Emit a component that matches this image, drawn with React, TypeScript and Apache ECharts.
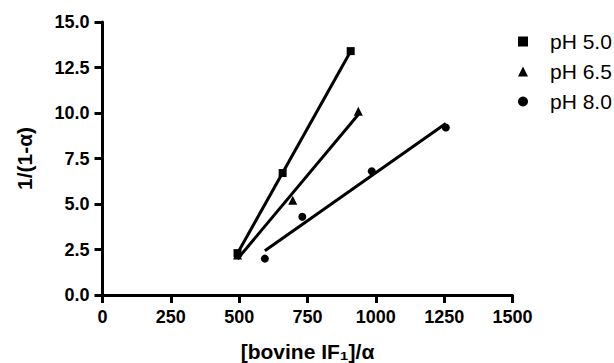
import React, { useEffect, useRef } from "react";
import * as echarts from "echarts";

const seriesNames = ["pH 5.0", "pH 6.5", "pH 8.0"];
const seriesSymbols = ["rect", "triangle", "circle"];
const ph50: [number, number][] = [[494, 2.3], [659, 6.7], [908, 13.4]];
const ph65: [number, number][] = [[494, 2.2], [696, 5.2], [936, 10.1]];
const ph80: [number, number][] = [[594, 2.0], [731, 4.3], [985, 6.8], [1256, 9.2]];
const seriesData = [ph50, ph65, ph80];

const xTicks = [0, 250, 500, 750, 1000, 1250, 1500];
const yTicks = [0, 2.5, 5, 7.5, 10, 12.5, 15];

function fitLine(pts: [number, number][]): [number, number][] {
  const n = pts.length;
  const mx = pts.reduce((s, p) => s + p[0], 0) / n;
  const my = pts.reduce((s, p) => s + p[1], 0) / n;
  let sxx = 0, sxy = 0;
  pts.forEach((p) => { sxx += (p[0] - mx) ** 2; sxy += (p[0] - mx) * (p[1] - my); });
  const b = sxy / sxx;
  const a = my - b * mx;
  const xs = pts.map((p) => p[0]);
  const x0 = Math.min(...xs), x1 = Math.max(...xs);
  return [[x0, a + b * x0], [x1, a + b * x1]];
}

const FONT = "'Liberation Sans', Arial, Helvetica, sans-serif";

export default function App() {
  const ref = useRef<HTMLDivElement>(null);
  useEffect(() => {
    if (!ref.current) return;
    document.body.style.margin = "0";
    const chart = echarts.init(ref.current, undefined, { renderer: "svg" });
    const axisCommon = {
      axisLine: { show: true, onZero: false, lineStyle: { color: "#000", width: 3 } },
      axisTick: { show: true, length: 8, lineStyle: { color: "#000", width: 3 } },
      splitLine: { show: false },
      axisLabel: { color: "#000", fontWeight: "bold", fontSize: 18, fontFamily: FONT },
      nameTextStyle: { color: "#000", fontWeight: "bold", fontSize: 21, fontFamily: FONT },
    };
    const lines = seriesData.map((d, i) => ({
      type: "line",
      name: seriesNames[i] + " fit",
      data: fitLine(d),
      symbol: "none",
      lineStyle: { color: "#000", width: 3 },
      silent: true,
      z: 2,
    }));
    const scatters = seriesData.map((d, i) => ({
      type: "scatter",
      name: seriesNames[i],
      data: d,
      symbol: seriesSymbols[i],
      symbolSize: seriesSymbols[i] === "triangle" ? 9 : 8,
      itemStyle: { color: "#000", opacity: 1 },
      z: 3,
    }));
    chart.setOption({
      animation: false,
      grid: {
        left: 102.5,
        right: 101.5,
        top: 22,
        bottom: 68,
        containLabel: false,
        outerBoundsMode: "none",
      },
      legend: {
        data: seriesNames.map((n) => ({ name: n, itemStyle: { color: "#000", opacity: 1 } })),
        orient: "vertical",
        left: 513,
        top: 26,
        itemWidth: 10,
        itemHeight: 10,
        itemGap: 9,
        textStyle: { color: "#000", fontSize: 21, fontFamily: FONT, padding: [0, 0, 0, 17] },
      },
      xAxis: {
        type: "value",
        min: 0,
        max: 1500,
        interval: 250,
        name: "[bovine IF₁]/α",
        nameLocation: "middle",
        nameGap: 46,
        ...axisCommon,
        axisLabel: {
          ...axisCommon.axisLabel,
          margin: 13,
          formatter: (v: number) => (xTicks.includes(v) ? String(v) : ""),
        },
      },
      yAxis: {
        type: "value",
        min: 0,
        max: 15,
        interval: 2.5,
        name: "1/(1-α)",
        nameLocation: "middle",
        nameGap: 68,
        ...axisCommon,
        axisLabel: {
          ...axisCommon.axisLabel,
          margin: 13,
          formatter: (v: number) => (yTicks.includes(v) ? v.toFixed(1) : ""),
        },
      },
      series: [...lines, ...scatters],
    });
    return () => chart.dispose();
  }, []);
  return <div ref={ref} style={{ width: 614, height: 363 }} />;
}
